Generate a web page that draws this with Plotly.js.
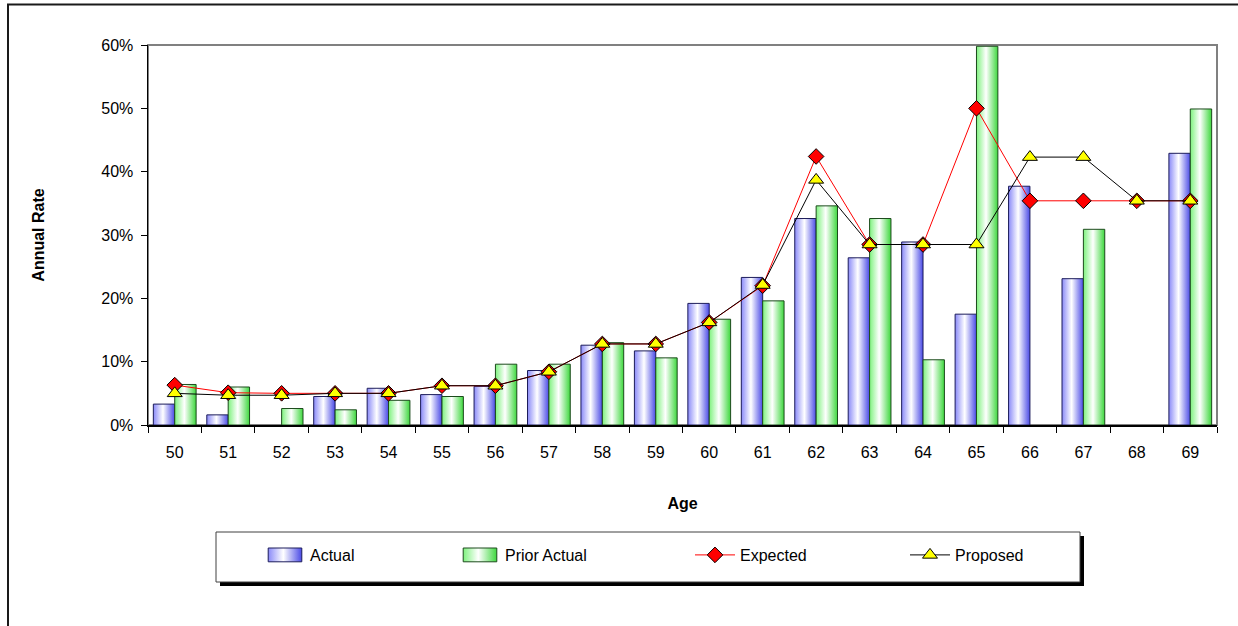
<!DOCTYPE html>
<html>
<head>
<meta charset="utf-8">
<script src="https://cdn.plot.ly/plotly-3.0.1.min.js"></script>
<style>
  html, body { margin: 0; padding: 0; background: #ffffff; }
  #chart { width: 1238px; height: 626px; }
</style>
</head>
<body>
<div id="chart"></div>
<script>
// ---- data ----
const ages = ["50","51","52","53","54","55","56","57","58","59","60","61","62","63","64","65","66","67","68","69"];
const actual      = [0.033,0.016,null,0.045,0.058,0.048,0.061,0.086,0.126,0.117,0.192,0.233,0.326,0.264,0.289,0.175,0.377,0.231,null,0.429];
const priorActual = [0.064,0.060,0.026,0.024,0.039,0.045,0.096,0.096,0.130,0.106,0.167,0.196,0.346,0.326,0.103,0.598,null,0.309,null,0.499];
const expected    = [0.063,0.051,0.050,0.050,0.050,0.062,0.062,0.084,0.128,0.128,0.162,0.220,0.424,0.285,0.285,0.500,0.354,0.354,0.354,0.354];
const proposed    = [0.050,0.047,0.047,0.050,0.050,0.062,0.062,0.084,0.128,0.128,0.162,0.221,0.387,0.285,0.285,0.285,0.423,0.423,0.354,0.354];

const FONT = "Liberation Sans, Arial, sans-serif";

const traces = [
  { type: "bar", name: "Actual", x: ages, y: actual, legend: "legend",
    marker: { color: "#b8b8ff", line: { color: "#1c1c5a", width: 1 } } },
  { type: "bar", name: "Prior Actual", x: ages, y: priorActual, legend: "legend2",
    marker: { color: "#b8ffb8", line: { color: "#1c4a1c", width: 1 } } },
  { type: "scatter", mode: "lines+markers", name: "Expected", x: ages, y: expected, legend: "legend3",
    line: { color: "#ff0000", width: 1 },
    marker: { symbol: "diamond", size: 12, color: "#ff0000", line: { color: "#000000", width: 1 } } },
  { type: "scatter", mode: "lines+markers", name: "Proposed", x: ages, y: proposed, legend: "legend4",
    line: { color: "#000000", width: 1 },
    marker: { symbol: "triangle-up", size: 13, color: "#ffff00", line: { color: "#000000", width: 1 } } }
];

const L = 148, T = 45, PW = 1069, PH = 380;
function px(x) { return (x - L) / PW; }
function py(y) { return (T + PH - y) / PH; }

function legendAt(xPix) {
  return {
    orientation: "h", x: px(xPix), y: py(538), xanchor: "left", yanchor: "top",
    bgcolor: "rgba(0,0,0,0)", borderwidth: 0, itemwidth: 40,
    font: { family: FONT, size: 16, color: "#000000" }
  };
}

const layout = {
  width: 1238, height: 626,
  margin: { l: L, r: 1238 - L - PW, t: T, b: 626 - T - PH, pad: 0 },
  paper_bgcolor: "#ffffff", plot_bgcolor: "#ffffff",
  font: { family: FONT, size: 16, color: "#000000" },
  barmode: "group", bargap: 0.2, bargroupgap: 0,
  showlegend: true,
  legend: legendAt(260),
  legend2: legendAt(455),
  legend3: legendAt(690),
  legend4: legendAt(905),
  xaxis: {
    type: "category", range: [-0.5, 19.5], autorange: false,
    showgrid: false, zeroline: false,
    showline: true, linecolor: "#000000", linewidth: 1.5,
    ticks: "outside", ticklen: 6, tickcolor: "#000000", tickwidth: 1, tickson: "boundaries",
    ticklabelstandoff: 12,
    tickfont: { family: FONT, size: 16, color: "#000000" },
    title: { text: "<b>Age</b>", font: { family: FONT, size: 16, color: "#000000" }, standoff: 38 },
    automargin: false
  },
  yaxis: {
    range: [0, 0.6], autorange: false, dtick: 0.1, tick0: 0, tickformat: ".0%",
    showgrid: false, zeroline: false,
    showline: true, linecolor: "#000000", linewidth: 1.5,
    ticks: "outside", ticklen: 6, tickcolor: "#000000", tickwidth: 1,
    ticklabelstandoff: 4,
    tickfont: { family: FONT, size: 16, color: "#000000" },
    title: { text: "<b>Annual Rate</b>", font: { family: FONT, size: 16, color: "#000000" }, standoff: 52 },
    automargin: false
  },
  shapes: [
    // outer chart border
    { type: "rect", xref: "paper", yref: "paper", x0: px(8), x1: px(1300), y0: py(4.5), y1: py(700),
      line: { color: "#1a1a1a", width: 2 }, fillcolor: "rgba(0,0,0,0)", layer: "below" },
    // plot area border
    { type: "rect", xref: "paper", yref: "paper", x0: 0, x1: 1, y0: 0, y1: 1,
      line: { color: "#808080", width: 2 }, fillcolor: "rgba(0,0,0,0)", layer: "below" },
    // legend shadow
    { type: "rect", xref: "paper", yref: "paper", x0: px(220), x1: px(1084), y0: py(586), y1: py(536),
      line: { width: 0 }, fillcolor: "#000000", layer: "below" },
    // legend box
    { type: "rect", xref: "paper", yref: "paper", x0: px(216), x1: px(1080), y0: py(582), y1: py(532),
      line: { color: "#404040", width: 1 }, fillcolor: "#ffffff", layer: "below" }
  ]
};

function addGradients(gd) {
  const svg = gd.querySelector(".main-svg");
  if (!svg) return;
  let defs = svg.querySelector("defs");
  if (!defs) { defs = document.createElementNS("http://www.w3.org/2000/svg", "defs"); svg.insertBefore(defs, svg.firstChild); }
  function grad(id, stops) {
    if (svg.querySelector("#" + id)) return;
    const g = document.createElementNS("http://www.w3.org/2000/svg", "linearGradient");
    g.setAttribute("id", id); g.setAttribute("x1", "0"); g.setAttribute("x2", "1"); g.setAttribute("y1", "0"); g.setAttribute("y2", "0");
    stops.forEach(s => {
      const st = document.createElementNS("http://www.w3.org/2000/svg", "stop");
      st.setAttribute("offset", s[0]); st.setAttribute("stop-color", s[1]);
      g.appendChild(st);
    });
    defs.appendChild(g);
  }
  grad("gradBlue", [["0", "#8a8af8"], ["0.45", "#ffffff"], ["1", "#4a4ae6"]]);
  grad("gradGreen", [["0", "#7ef27e"], ["0.45", "#ffffff"], ["1", "#3ed83e"]]);
  const barTraces = gd.querySelectorAll(".barlayer .trace.bars");
  barTraces.forEach((t, i) => {
    const id = i === 0 ? "gradBlue" : "gradGreen";
    t.querySelectorAll("path").forEach(p => { p.style.fill = "url(#" + id + ")"; });
  });
  const lpoints = gd.querySelectorAll(".legendpoints");
  lpoints.forEach((lg, i) => {
    if (i > 1) return;
    const id = i === 0 ? "gradBlue" : "gradGreen";
    lg.querySelectorAll("path").forEach(p => {
      p.style.fill = "url(#" + id + ")";
      if (!p.dataset.widened) {
        const tr = p.getAttribute("transform") || "";
        p.setAttribute("transform", tr + " scale(2.8,1.15)");
        p.style.vectorEffect = "non-scaling-stroke";
        p.dataset.widened = "1";
      }
    });
  });
}

const gd = document.getElementById("chart");
Plotly.newPlot(gd, traces, layout, { displayModeBar: false, staticPlot: true }).then(() => {
  addGradients(gd);
  gd.on("plotly_afterplot", () => addGradients(gd));
});
</script>
</body>
</html>
